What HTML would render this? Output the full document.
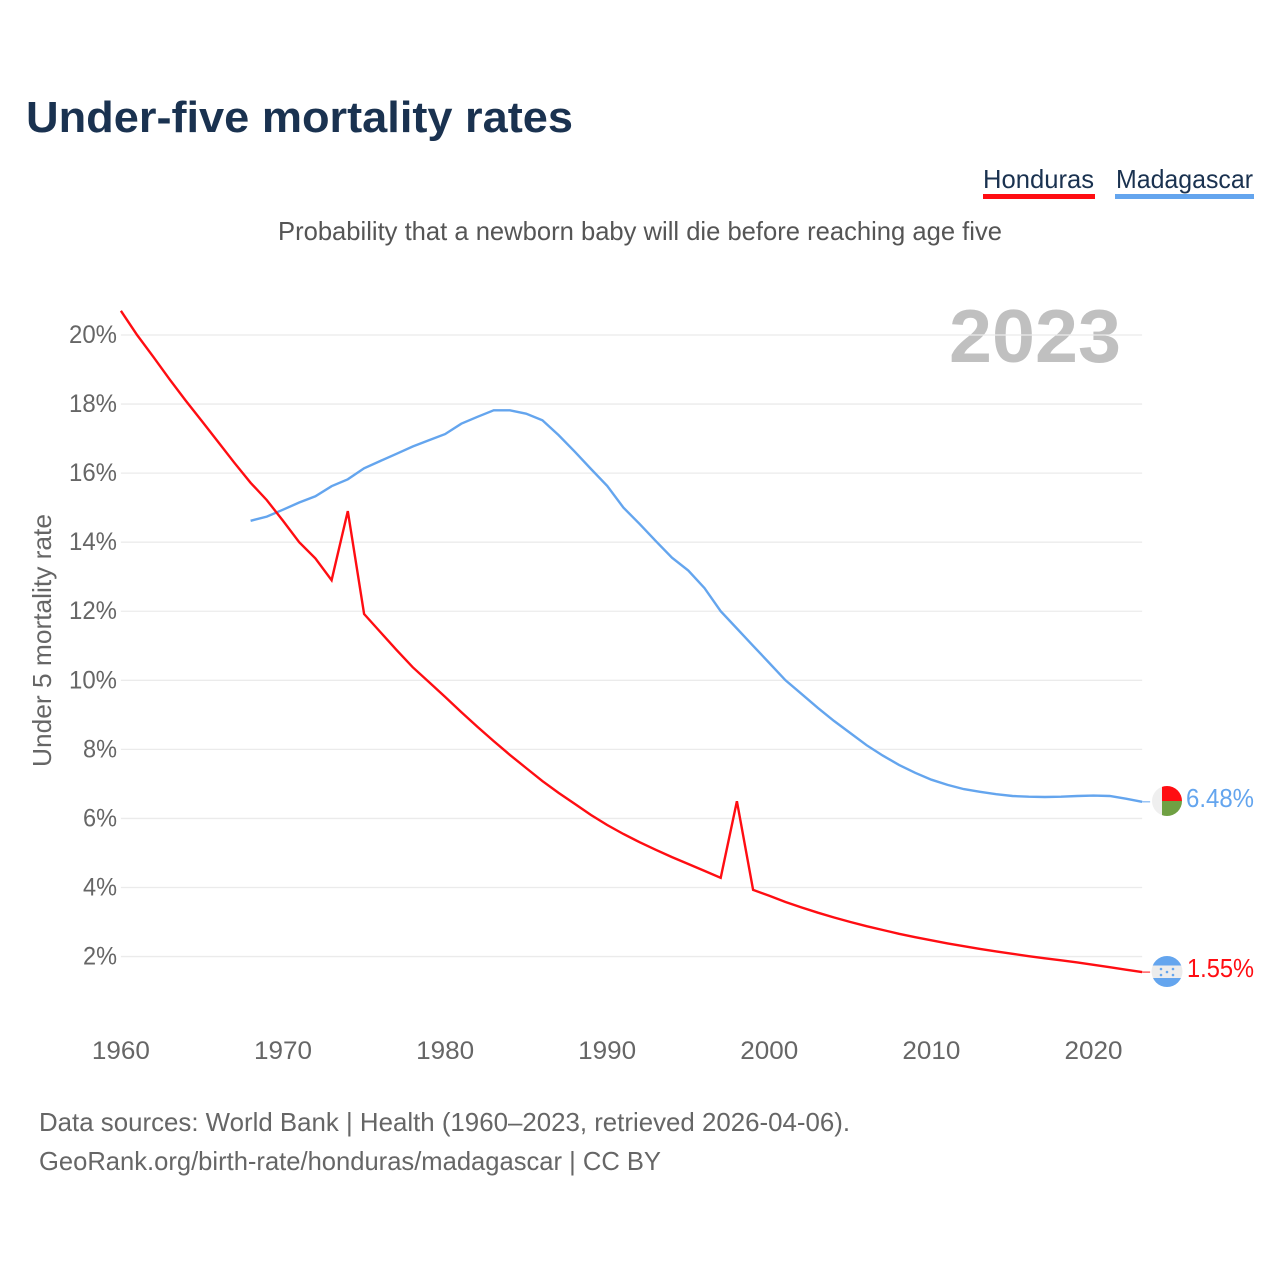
<!DOCTYPE html>
<html lang="en">
<head>
<meta charset="utf-8">
<title>Under-five mortality rates</title>
<style>
html,body{margin:0;padding:0;background:#fff;}
svg{display:block;font-family:"Liberation Sans",sans-serif;}
</style>
</head>
<body>
<svg id="chart" width="1280" height="1280" viewBox="0 0 1280 1280" xmlns="http://www.w3.org/2000/svg">
  <defs>
    <clipPath id="flag-clip-mg"><circle cx="1167" cy="801" r="15"/></clipPath>
    <clipPath id="flag-clip-hn"><circle cx="1167" cy="971.5" r="15.5"/></clipPath>
  </defs>
  <rect width="1280" height="1280" fill="#fff"/>
  <text x="26" y="132" font-size="44" font-weight="700" fill="#1a3250" textLength="547" lengthAdjust="spacingAndGlyphs">Under-five mortality rates</text>

  <g>
    <text x="983" y="188" font-size="26" fill="#1a3250" textLength="111" lengthAdjust="spacingAndGlyphs">Honduras</text>
    <rect x="983" y="194" width="112" height="5" fill="#ff0d12"/>
  </g>
  <g>
    <text x="1116" y="188" font-size="26" fill="#1a3250" textLength="137" lengthAdjust="spacingAndGlyphs">Madagascar</text>
    <rect x="1115" y="194" width="139" height="5" fill="#64a5ee"/>
  </g>

  <text x="278" y="240" font-size="26" fill="#555" textLength="724" lengthAdjust="spacingAndGlyphs">Probability that a newborn baby will die before reaching age five</text>

  <text x="949" y="362" font-size="75" font-weight="700" fill="#c0c0c0" textLength="172" lengthAdjust="spacingAndGlyphs">2023</text>

  <g id="grid"></g>
  <g id="y-ticks"></g>
  <g id="x-ticks"></g>

  <text transform="translate(51 767) rotate(-90)" font-size="26" fill="#666" textLength="253" lengthAdjust="spacingAndGlyphs">Under 5 mortality rate</text>

  <g id="series"></g>

  <g clip-path="url(#flag-clip-mg)">
    <rect x="1152" y="786" width="10" height="31" fill="#efefef"/>
    <rect x="1162" y="786" width="20" height="15" fill="#ff0d12"/>
    <rect x="1162" y="801" width="20" height="16" fill="#6fa043"/>
  </g>
  <g clip-path="url(#flag-clip-hn)">
    <rect x="1151" y="956" width="32" height="9.5" fill="#64a5ee"/>
    <rect x="1151" y="965.5" width="32" height="12.5" fill="#ececec"/>
    <rect x="1151" y="978" width="32" height="9" fill="#64a5ee"/>
    <circle cx="1167" cy="972" r="1.3" fill="#64a5ee"/>
    <circle cx="1161" cy="969" r="1.3" fill="#64a5ee"/>
    <circle cx="1173" cy="969" r="1.3" fill="#64a5ee"/>
    <circle cx="1161" cy="975" r="1.3" fill="#64a5ee"/>
    <circle cx="1173" cy="975" r="1.3" fill="#64a5ee"/>
  </g>

  <text id="label-madagascar" x="1186" y="807" font-size="26" fill="#64a5ee" textLength="68" lengthAdjust="spacingAndGlyphs"></text>
  <text id="label-honduras" x="1187" y="977" font-size="26" fill="#ff0d12" textLength="67" lengthAdjust="spacingAndGlyphs"></text>

  <text x="39" y="1131" font-size="26" fill="#666" textLength="811" lengthAdjust="spacingAndGlyphs">Data sources: World Bank | Health (1960–2023, retrieved 2026-04-06).</text>
  <text x="39" y="1170" font-size="26" fill="#666" textLength="622" lengthAdjust="spacingAndGlyphs">GeoRank.org/birth-rate/honduras/madagascar | CC BY</text>
</svg>
<script>
var xTickYears = [1960, 1970, 1980, 1990, 2000, 2010, 2020];
var yTickValues = [2, 4, 6, 8, 10, 12, 14, 16, 18, 20];
var hondurasStartYear = 1960;
var madagascarStartYear = 1968;
var hondurasValues = [20.7, 20.0, 19.37, 18.72, 18.1, 17.5, 16.9, 16.3, 15.72, 15.22,
  14.62, 14.0, 13.53, 12.9, 14.9, 11.92, 11.4, 10.88, 10.38, 9.95,
  9.52, 9.08, 8.65, 8.24, 7.84, 7.46, 7.08, 6.74, 6.42, 6.1,
  5.81, 5.55, 5.31, 5.09, 4.88, 4.68, 4.48, 4.28, 6.5, 3.93,
  3.76, 3.58, 3.42, 3.27, 3.13, 3.0, 2.88, 2.77, 2.66, 2.56,
  2.47, 2.38, 2.3, 2.22, 2.15, 2.08, 2.01, 1.95, 1.89, 1.83,
  1.76, 1.69, 1.62, 1.55];
var madagascarValues = [14.62, 14.74, 14.94, 15.15, 15.33, 15.62, 15.82, 16.14, 16.35, 16.56,
  16.77, 16.95, 17.13, 17.43, 17.63, 17.82, 17.82, 17.72, 17.53, 17.1,
  16.62, 16.12, 15.63, 15.0, 14.53, 14.03, 13.55, 13.18, 12.67, 12.0,
  11.5, 11.0, 10.5, 10.0, 9.6, 9.2, 8.82, 8.47, 8.12, 7.82,
  7.55, 7.32, 7.12, 6.97, 6.85, 6.77, 6.7, 6.65, 6.63, 6.62,
  6.63, 6.65, 6.66, 6.65, 6.57, 6.48];
var seriesColors = { honduras: '#ff0d12', madagascar: '#64a5ee' };

var NS = 'http://www.w3.org/2000/svg';
function xScale(year) { return 120.9 + (year - 1960) * 16.21; }
function yScale(v) { return 335 + (20 - v) * 34.53; }
function pointsFor(values, startYear) {
  return values.map(function (v, i) {
    return xScale(startYear + i).toFixed(1) + ',' + yScale(v).toFixed(1);
  }).join(' ');
}

var gridG = document.getElementById('grid');
var yG = document.getElementById('y-ticks');
var xG = document.getElementById('x-ticks');
var seriesG = document.getElementById('series');

yTickValues.forEach(function (v) {
  var line = document.createElementNS(NS, 'line');
  
  
  line.setAttribute('x1', xScale(1960));
  line.setAttribute('x2', xScale(2023));
  line.setAttribute('y1', yScale(v));
  line.setAttribute('y2', yScale(v));
  line.setAttribute('stroke', '#ebebeb');
  line.setAttribute('stroke-width', '1.3');
  gridG.appendChild(line);

  var t = document.createElementNS(NS, 'text');
  
  
  t.setAttribute('x', 117);
  t.setAttribute('y', yScale(v) + 8);
  t.setAttribute('text-anchor', 'end');
  t.setAttribute('font-size', '25');
  t.setAttribute('fill', '#666');
  t.setAttribute('textLength', v >= 10 ? '48' : '34');
  t.setAttribute('lengthAdjust', 'spacingAndGlyphs');
  t.textContent = v + '%';
  yG.appendChild(t);
});

xTickYears.forEach(function (y) {
  var t = document.createElementNS(NS, 'text');
  
  
  t.setAttribute('x', xScale(y));
  t.setAttribute('y', 1059);
  t.setAttribute('text-anchor', 'middle');
  t.setAttribute('font-size', '25');
  t.setAttribute('fill', '#666');
  t.setAttribute('textLength', '58');
  t.setAttribute('lengthAdjust', 'spacingAndGlyphs');
  t.textContent = y;
  xG.appendChild(t);
});

function drawSeries(name, values, startYear, color) {
  var last = values[values.length - 1];
  var lastYear = startYear + values.length - 1;
  var leader = document.createElementNS(NS, 'line');
  
  
  leader.setAttribute('x1', xScale(lastYear));
  leader.setAttribute('x2', xScale(lastYear) + 8);
  leader.setAttribute('y1', yScale(last));
  leader.setAttribute('y2', yScale(last));
  leader.setAttribute('stroke', color);
  leader.setAttribute('stroke-width', '1');
  seriesG.appendChild(leader);

  var pl = document.createElementNS(NS, 'polyline');
  
  
  pl.setAttribute('points', pointsFor(values, startYear));
  pl.setAttribute('fill', 'none');
  pl.setAttribute('stroke', color);
  pl.setAttribute('stroke-width', '2.4');
  pl.setAttribute('stroke-linejoin', 'miter');
  seriesG.appendChild(pl);
}
drawSeries('madagascar', madagascarValues, madagascarStartYear, seriesColors.madagascar);
drawSeries('honduras', hondurasValues, hondurasStartYear, seriesColors.honduras);

document.getElementById('label-madagascar').textContent = madagascarValues[madagascarValues.length - 1].toFixed(2) + '%';
document.getElementById('label-honduras').textContent = hondurasValues[hondurasValues.length - 1].toFixed(2) + '%';
</script>
</body>
</html>
